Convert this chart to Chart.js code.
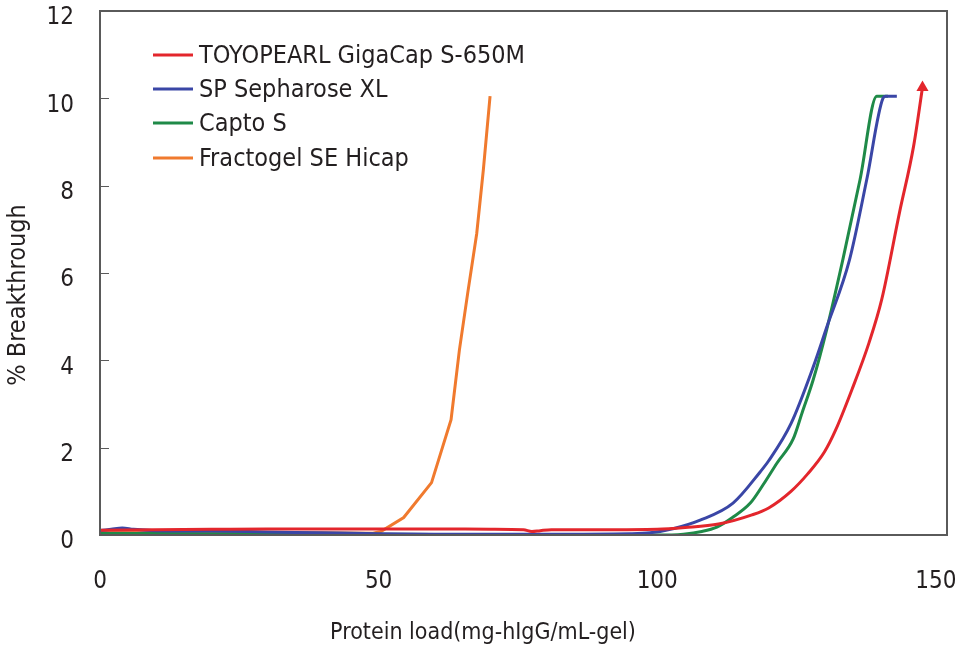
<!DOCTYPE html>
<html>
<head>
<meta charset="utf-8">
<title>Breakthrough curves</title>
<script src="https://cdn.jsdelivr.net/npm/chart.js@4.4.1/dist/chart.umd.min.js"></script>
<style>
  html, body { margin: 0; padding: 0; background: #fff; }
  #wrap { width: 955px; height: 649px; position: relative; }
</style>
</head>
<body>
<div id="wrap"><canvas id="chart"></canvas></div>
<script>
// ── data ──
const SERIES_NAMES = ['TOYOPEARL GigaCap S-650M', 'SP Sepharose XL', 'Capto S', 'Fractogel SE Hicap'];
const X_TITLE = 'Protein load(mg-hIgG/mL-gel)';
const Y_TITLE = '% Breakthrough';

const toyoLoad  = [0, 10, 20, 30, 40, 50, 60, 70, 76, 77.5, 79, 81, 90, 100, 105, 111, 117, 120, 124, 127, 130, 132, 135, 138, 140.3, 143.5, 146, 147.6];
const toyoBreak = [0.11, 0.12, 0.13, 0.14, 0.14, 0.14, 0.14, 0.13, 0.12, 0.08, 0.1, 0.12, 0.12, 0.13, 0.17, 0.25, 0.46, 0.62, 1.0, 1.4, 1.9, 2.4, 3.35, 4.4, 5.4, 7.4, 8.9, 10.25];

const spLoad  = [0, 2, 4, 6, 10, 20, 30, 40, 50, 60, 80, 95, 98.7, 103, 107.7, 113.6, 118.5, 120, 124, 128, 130.4, 134.5, 137.6, 140.5, 141, 143];
const spBreak = [0.1, 0.13, 0.16, 0.13, 0.1, 0.09, 0.07, 0.05, 0.03, 0.02, 0.02, 0.03, 0.05, 0.15, 0.34, 0.73, 1.45, 1.7, 2.55, 3.85, 4.75, 6.3, 8.14, 10.0, 10.05, 10.05];

const captoLoad  = [0, 20, 40, 60, 80, 95, 100, 104.7, 108, 110.7, 113.5, 116.7, 119, 121.5, 124.4, 126, 128, 130.4, 133.3, 136.4, 139.4, 141.4];
const captoBreak = [0.04, 0.03, 0.02, 0.01, 0.0, 0.0, 0.0, 0.02, 0.08, 0.18, 0.4, 0.73, 1.15, 1.65, 2.2, 2.8, 3.56, 4.7, 6.3, 8.14, 10.05, 10.05];

const fractoLoad  = [0, 20, 40, 49, 50.4, 54.5, 59.5, 63, 64.5, 66, 67.6, 68.8, 70];
const fractoBreak = [0.05, 0.05, 0.05, 0.04, 0.08, 0.4, 1.2, 2.64, 4.24, 5.55, 6.9, 8.37, 10.05];

const X_TICKS = [0, 50, 100, 150];
const Y_TICKS = [0, 2, 4, 6, 8, 10, 12];

const COLORS = {
  red:    '#e3262c',
  blue:   '#3a46a6',
  green:  '#1f8a48',
  orange: '#f07a2e',
  text:   '#231f20',
  frame:  '#5a5a5a'
};

const FONT = '"Liberation Sans Narrow", "DejaVu Sans Condensed", sans-serif';

function pts(xs, ys) { return xs.map((x, i) => ({ x, y: ys[i] })); }

// ── legend drawn inside the plot, top-left ──
const insideLegend = {
  id: 'insideLegend',
  afterDatasetsDraw(chart) {
    const { ctx } = chart;
    const rowY = [55, 89, 123, 158];
    ctx.save();
    ctx.font = '25px ' + FONT;
    ctx.textBaseline = 'middle';
    ctx.textAlign = 'left';
    chart.data.datasets.forEach((ds, i) => {
      ctx.strokeStyle = ds.borderColor;
      ctx.lineWidth = 3;
      ctx.beginPath();
      ctx.moveTo(153, rowY[i]);
      ctx.lineTo(193, rowY[i]);
      ctx.stroke();
      ctx.fillStyle = COLORS.text;
      ctx.fillText(ds.label, 199, rowY[i] + 1);
    });
    ctx.restore();
  }
};

// ── axis titles (the original sits a little off-centre) ──
const axisTitles = {
  id: 'axisTitles',
  afterDraw(chart) {
    const { ctx } = chart;
    ctx.save();
    ctx.fillStyle = COLORS.text;
    ctx.textAlign = 'center';
    ctx.textBaseline = 'middle';
    ctx.font = '23px ' + FONT;
    ctx.fillText(X_TITLE, 483, 633);
    ctx.translate(18, 295);
    ctx.rotate(-Math.PI / 2);
    ctx.font = '25px ' + FONT;
    ctx.fillText(Y_TITLE, 0, 0);
    ctx.restore();
  }
};

// ── frame round the plot + small inward ticks ──
const frame = {
  id: 'frame',
  afterDraw(chart) {
    const { ctx, chartArea: a, scales } = chart;
    ctx.save();
    ctx.strokeStyle = COLORS.frame;
    ctx.lineWidth = 2;
    ctx.strokeRect(a.left, a.top, a.right - a.left, a.bottom - a.top);
    ctx.lineWidth = 1;
    Y_TICKS.forEach(v => {
      const y = Math.round(scales.y.getPixelForValue(v)) + 0.5;
      ctx.beginPath();
      ctx.moveTo(a.left, y);
      ctx.lineTo(a.left + 9, y);
      ctx.stroke();
    });
    ctx.restore();
  }
};

const lineDs = (label, data, color, extra) => Object.assign({
  label, data,
  borderColor: color,
  backgroundColor: color,
  borderWidth: 3,
  pointRadius: 0,
  tension: 0.25,
  cubicInterpolationMode: 'monotone',
  fill: false
}, extra || {});

new Chart(document.getElementById('chart'), {
  type: 'line',
  data: {
    datasets: [
      lineDs(SERIES_NAMES[0], pts(toyoLoad, toyoBreak), COLORS.red, {
        pointStyle: 'triangle',
        pointRadius: c => (c.dataIndex === toyoLoad.length - 1 ? 4 : 0)
      }),
      lineDs(SERIES_NAMES[1], pts(spLoad, spBreak), COLORS.blue),
      lineDs(SERIES_NAMES[2], pts(captoLoad, captoBreak), COLORS.green),
      lineDs(SERIES_NAMES[3], pts(fractoLoad, fractoBreak), COLORS.orange, { tension: 0, cubicInterpolationMode: 'default' })
    ]
  },
  options: {
    responsive: true,
    maintainAspectRatio: false,
    animation: false,
    devicePixelRatio: 1,
    layout: { padding: { top: 11, right: 8, left: 0, bottom: 0 } },
    plugins: {
      legend: { display: false },
      tooltip: { enabled: false }
    },
    scales: {
      x: {
        type: 'linear',
        min: 0,
        max: 152,
        afterBuildTicks: s => { s.ticks = X_TICKS.map(v => ({ value: v })); },
        afterFit: s => { s.height = 114; s.paddingLeft = 0; s.paddingRight = 0; },
        grid: { display: false, drawTicks: false },
        border: { display: false },
        ticks: { padding: 32, color: COLORS.text, font: { family: FONT, size: 24 } },
        title: { display: false }
      },
      y: {
        min: 0,
        max: 12,
        afterBuildTicks: s => { s.ticks = Y_TICKS.map(v => ({ value: v })); },
        afterFit: s => { s.width = 100; s.paddingTop = 0; s.paddingBottom = 0; },
        grid: { display: false, drawTicks: false },
        border: { display: false },
        ticks: { padding: 26, labelOffset: 7, color: COLORS.text, font: { family: FONT, size: 24 } },
        title: { display: false }
      }
    }
  },
  plugins: [insideLegend, axisTitles, frame]
});
</script>
</body>
</html>
